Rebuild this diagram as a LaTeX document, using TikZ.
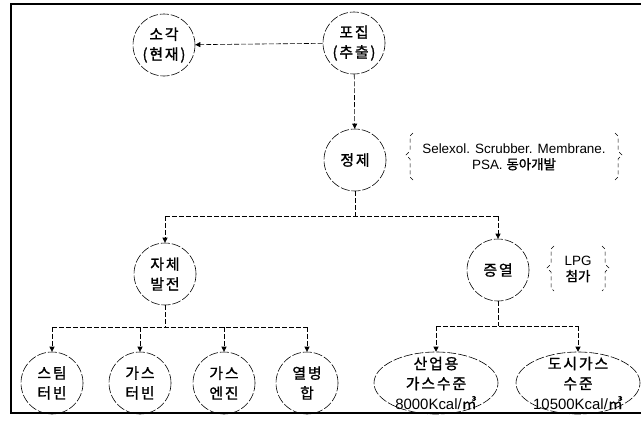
\documentclass[tikz,border=0pt]{standalone}
\usepackage{fontspec}
\setmainfont{Liberation Sans}
\newfontfamily\kr[LetterSpace=12, FakeBold=1.2]{Noto Sans CJK KR}
\usetikzlibrary{arrows.meta,shapes.geometric}

\begin{document}
\begin{tikzpicture}[x=1bp, y=-1bp,
  every node/.style={font=\kr\fontsize{15}{20}\selectfont, align=center},
  stage/.style={circle, draw, dash pattern=on 9pt off 2pt, line width=0.6pt, minimum size=62bp, inner sep=0pt},
  level/.style={ellipse, draw, dash pattern=on 9pt off 2pt, line width=0.6pt, minimum width=124bp, minimum height=62bp, inner sep=0pt},
  flow/.style={dash pattern=on 5pt off 2pt, line width=0.6pt},
  feed/.style={flow, -{Triangle[length=5pt,width=5pt]}},
  bracket/.style={dash pattern=on 4pt off 3pt, line width=0.5pt},
  remark/.style={font=\fontsize{13.5}{16}\selectfont}
]
  \useasboundingbox (0,0) rectangle (641,426);

  % Frame (open on the right)
  \draw[line width=1.2bp] (641,4) -- (11,4) -- (11,413) -- (641,413);

  % Capture and purification
  \node[stage] (sogak) at (164,45) {소각\\(현재)};
  \node[stage] (pojip) at (354,43) {포집\\(추출)};
  \node[stage] (jeongje) at (355,160) {정제};
  \draw[feed] (pojip) -- (sogak);
  \draw[feed] (pojip) -- (jeongje);

  % Purification methods
  \node[remark] (method) at (514,157) {Selexol. Scrubber. Membrane.\\PSA. {\kr\addfontfeature{LetterSpace=0} 동아개발}};
  \draw[bracket] (413,133) -- (410,136) -- (410,151) -- (406,155) -- (410,159) -- (410,177) -- (413,180);
  \draw[bracket] (615,133) -- (618,136) -- (618,151) -- (622,155) -- (618,159) -- (618,177) -- (615,180);

  % Use of the gas
  \node[stage] (jache) at (165,274) {자체\\발전};
  \node[stage] (jeungyeol) at (498,270) {증열};
  \coordinate (split) at (355,216);
  \coordinate (splitL) at (165,216);
  \coordinate (splitR) at (498,216);
  \draw[flow] (jeongje) -- (split);
  \draw[flow] (splitL) -- (splitR);
  \draw[feed] (splitL) -- (jache);
  \draw[feed] (splitR) -- (jeungyeol);

  % LPG addition
  \node[remark] (lpg) at (578,269) {LPG\\{\kr\addfontfeature{LetterSpace=0} 첨가}};
  \draw[bracket] (554,246) -- (551,249) -- (551,264) -- (547,268) -- (551,272) -- (551,288) -- (554,291);
  \draw[bracket] (602,246) -- (605,249) -- (605,264) -- (609,268) -- (605,272) -- (605,288) -- (602,291);

  % Power generation
  \node[stage] (steam) at (52,383) {스팀\\터빈};
  \node[stage] (gasturb) at (140,383) {가스\\터빈};
  \node[stage] (gaseng) at (224,383) {가스\\엔진};
  \node[stage] (cogen) at (307,383) {열병\\합};
  \coordinate (powL) at (52,327);
  \coordinate (powR) at (307,327);
  \draw[flow] (jache) -- (165,327);
  \draw[flow] (powL) -- (powR);
  \foreach \n in {steam,gasturb,gaseng,cogen}
    \draw[feed] (\n |- powL) -- (\n);

  % Calorific levels
  \node[level, label=center:{산업용\\가스수준\\{\rmfamily 8000Kcal/}㎥}] (industry) at (436,383) {};
  \node[level, label=center:{도시가스\\수준\\{\rmfamily 10500Kcal/}㎥}] (city) at (578,383) {};
  \coordinate (heatL) at (436,326);
  \coordinate (heatR) at (578,326);
  \draw[flow] (jeungyeol) -- (498,326);
  \draw[flow] (heatL) -- (heatR);
  \draw[feed] (heatL) -- (industry);
  \draw[feed] (heatR) -- (city);
\end{tikzpicture}
\end{document}
